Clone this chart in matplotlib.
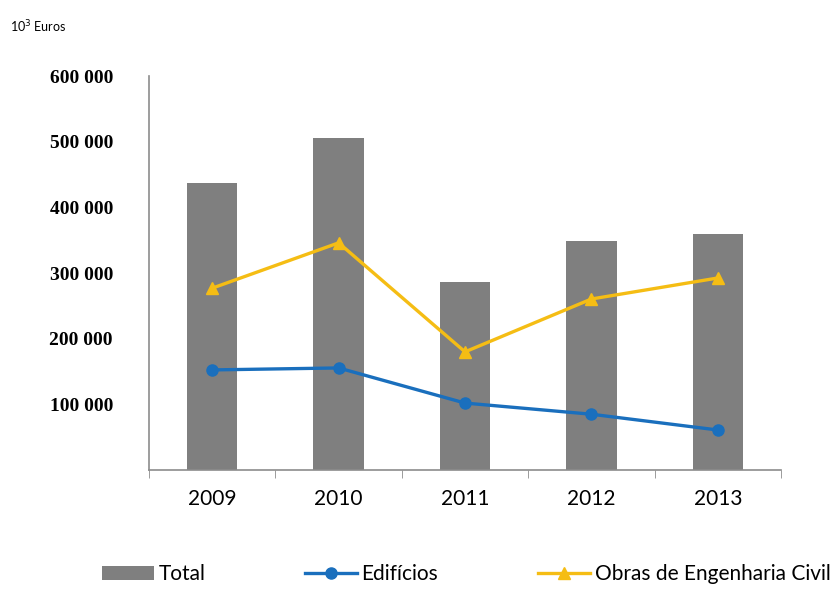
import numpy as np
import matplotlib
matplotlib.use("Agg")
import matplotlib.pyplot as plt
from matplotlib.ticker import FuncFormatter

# Valores em milhares de euros
anos = ["2009", "2010", "2011", "2012", "2013"]
total = [437000, 505500, 286000, 349000, 359000]
edificios = [152500, 155500, 102000, 85000, 61000]
obras_eng_civil = [277000, 346000, 180000, 260500, 292500]

x = np.arange(len(anos))

fig = plt.figure(figsize=(8.4, 5.92), dpi=100)
ax = fig.add_axes([0.1774, 0.206, 0.7524, 0.6655])

barras = ax.bar(x, total, width=0.4, color="#7f7f7f", label="Total", zorder=1)
l_edif, = ax.plot(x, edificios, color="#1a6fbd", lw=2.4, marker="o", ms=8,
                  label="Edifícios", zorder=3)
l_obras, = ax.plot(x, obras_eng_civil, color="#f5bd14", lw=2.4, marker="^", ms=8,
                   label="Obras de Engenharia Civil", zorder=3)

ax.set_xlim(-0.5, len(anos) - 0.5)
ax.set_ylim(0, 600000)
ax.set_yticks([100000, 200000, 300000, 400000, 500000, 600000])
ax.yaxis.set_major_formatter(FuncFormatter(lambda v, p: f"{int(v):,}".replace(",", " ")))
ax.tick_params(axis="y", length=0, pad=26)
for lab in ax.get_yticklabels():
    lab.set_fontfamily("Liberation Serif")
    lab.set_fontweight("bold")
    lab.set_fontsize(14)

# rotulos no centro, marcas de divisao entre categorias
ax.set_xticks(x)
ax.set_xticklabels(anos, fontfamily="Lato", fontsize=15)
ax.set_xticks(np.arange(len(anos) + 1) - 0.5, minor=True)
ax.tick_params(axis="x", which="major", length=0, pad=14)
ax.tick_params(axis="x", which="minor", length=6, color="#8c8c8c", direction="out")

for s in ["top", "right"]:
    ax.spines[s].set_visible(False)
for s in ["left", "bottom"]:
    ax.spines[s].set_color("#8c8c8c")
    ax.spines[s].set_linewidth(1.2)

fig.text(0.012, 0.955, "10$^3$ Euros", fontsize=9, fontfamily="Lato", va="center")

fig.legend([barras, l_edif, l_obras],
           ["Total", "Edifícios", "Obras de Engenharia Civil"],
           loc="center", bbox_to_anchor=(0.555, 0.03), ncol=3, frameon=False,
           prop={"family": "Lato", "size": 15}, columnspacing=4.8,
           handlelength=2.5, handletextpad=0.2)

fig.savefig("out.png", dpi=100)
